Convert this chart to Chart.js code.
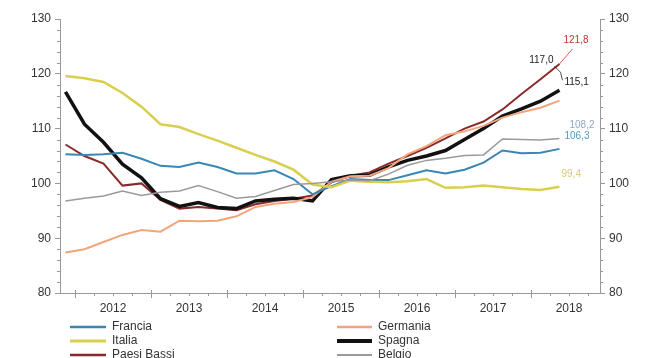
<!DOCTYPE html>
<html>
<head>
<meta charset="utf-8">
<script src="https://cdn.jsdelivr.net/npm/chart.js@4.4.0/dist/chart.umd.min.js"></script>
<style>
    html, body { margin: 0; padding: 0; background: #fff; }
    #wrap { width: 652px; height: 358px; position: relative; }
</style>
</head>
<body>
<div id="wrap"><canvas id="lineChart"></canvas></div>
<script>
// Quarterly house price indices (2015 = 100)
const quarters = [
    '2011Q4',
    '2012Q1', '2012Q2', '2012Q3', '2012Q4',
    '2013Q1', '2013Q2', '2013Q3', '2013Q4',
    '2014Q1', '2014Q2', '2014Q3', '2014Q4',
    '2015Q1', '2015Q2', '2015Q3', '2015Q4',
    '2016Q1', '2016Q2', '2016Q3', '2016Q4',
    '2017Q1', '2017Q2', '2017Q3', '2017Q4',
    '2018Q1', '2018Q2'
];

const francia     = [105.3, 105.2, 105.3, 105.6, 104.5, 103.2, 103.0, 103.8, 103.0, 101.8, 101.8, 102.4, 100.8, 98.0, 99.5, 100.8, 100.6, 100.6, 101.5, 102.4, 101.8, 102.5, 103.8, 106.0, 105.5, 105.6, 106.3];
const germania    = [87.4, 88.0, 89.3, 90.6, 91.5, 91.2, 93.2, 93.1, 93.2, 94.0, 95.7, 96.3, 96.6, 97.5, 100.3, 101.3, 101.4, 102.8, 105.3, 106.8, 108.8, 109.5, 110.5, 112.0, 113.0, 113.8, 115.1];
const italia      = [119.6, 119.2, 118.5, 116.5, 114.0, 110.8, 110.3, 109.0, 107.8, 106.5, 105.2, 104.0, 102.5, 99.8, 99.3, 100.5, 100.3, 100.2, 100.4, 100.8, 99.2, 99.3, 99.6, 99.3, 99.0, 98.8, 99.4];
const spagna      = [116.7, 110.8, 107.5, 103.5, 101.0, 97.2, 95.8, 96.5, 95.6, 95.4, 96.8, 97.1, 97.3, 96.8, 100.7, 101.4, 101.5, 103.0, 104.2, 105.0, 106.0, 108.0, 110.0, 112.3, 113.6, 115.0, 117.0];
const paesiBassi  = [107.1, 105.0, 103.6, 99.6, 100.0, 97.0, 95.4, 95.7, 95.4, 95.1, 96.2, 96.8, 97.2, 97.8, 100.2, 101.4, 102.0, 103.6, 105.0, 106.5, 108.2, 110.0, 111.3, 113.5, 116.3, 119.0, 121.8];
const belgio      = [96.8, 97.3, 97.7, 98.6, 97.8, 98.4, 98.6, 99.6, 98.5, 97.3, 97.6, 98.7, 99.8, 100.0, 100.3, 100.6, 100.5, 101.7, 103.3, 104.2, 104.6, 105.1, 105.2, 108.1, 108.0, 107.9, 108.2];

const seriesNames = ['Francia', 'Germania', 'Italia', 'Spagna', 'Paesi Bassi', 'Belgio'];
const endValueLabels = ['106,3', '115,1', '99,4', '117,0', '121,8', '108,2'];
const yearLabels = ['2012', '2013', '2014', '2015', '2016', '2017', '2018'];
const yTickValues = [80, 90, 100, 110, 120, 130];

// Quarter string -> decimal year at mid-quarter
function quarterToX(q) {
    const year = parseInt(q.slice(0, 4), 10);
    const n = parseInt(q.slice(-1), 10);
    return year + (n - 0.5) / 4;
}

function toPoints(values) {
    return values.map((v, i) => ({ x: quarterToX(quarters[i]), y: v }));
}

const seriesValues = [francia, germania, italia, spagna, paesiBassi, belgio];

const seriesStyle = [
    { color: '#3a86b4', width: 2 },    // Francia
    { color: '#f2a57c', width: 2 },    // Germania
    { color: '#d9cf4e', width: 2.5 },  // Italia
    { color: '#111111', width: 3.5 },  // Spagna
    { color: '#8a2b2b', width: 2 },    // Paesi Bassi
    { color: '#9a9a9a', width: 1.5 }   // Belgio
];

// End-of-series value tags: text colour, alignment and offset from last point
const endLabelStyle = [
    { color: '#4a9cc8', align: 'left', dx: 5, dy: -13 },
    { color: '#222222', align: 'left', dx: 5, dy: -18 },
    { color: '#d8cc74', align: 'left', dx: 2, dy: -12 },
    { color: '#222222', align: 'right', dx: -6, dy: -30, leader: [[-5, -24], [1, -18], [3, -10]] },
    { color: '#c0392b', align: 'left', dx: 4, dy: -24, leader: [[0, 0], [13, -15]] },
    { color: '#8fa8c0', align: 'left', dx: 10, dy: -13 }
];

// Draw order: lighter lines first, Spagna and Paesi Bassi on top
const drawOrder = [5, 2, 0, 1, 3, 4];

const datasets = drawOrder.map(i => ({
    label: seriesNames[i],
    data: toPoints(seriesValues[i]),
    borderColor: seriesStyle[i].color,
    borderWidth: seriesStyle[i].width,
    pointRadius: 0,
    tension: 0,
    fill: false,
    seriesIndex: i
}));

// Minor ticks on both value axes and quarter/year ticks on the time axis
const axisTicksPlugin = {
    id: 'axisTicks',
    afterDraw(chart) {
        const ctx = chart.ctx;
        const area = chart.chartArea;
        const xs = chart.scales.x;
        const ys = chart.scales.y;
        ctx.save();
        ctx.strokeStyle = '#999';
        ctx.lineWidth = 1;
        ctx.beginPath();
        for (let v = 80; v <= 130; v += 2) {
            if (v % 10 === 0) continue;
            const py = Math.round(ys.getPixelForValue(v)) + 0.5;
            ctx.moveTo(area.left - 3, py);
            ctx.lineTo(area.left, py);
            ctx.moveTo(area.right, py);
            ctx.lineTo(area.right + 3, py);
        }
        for (let t = 2011.75; t < xs.max; t += 0.25) {
            if (t < xs.min) continue;
            const px = Math.round(xs.getPixelForValue(t)) + 0.5;
            const major = Math.abs(t - Math.round(t)) < 0.01;
            ctx.moveTo(px, area.bottom - (major ? 3 : 0));
            ctx.lineTo(px, area.bottom + (major ? 5 : 3));
        }
        ctx.stroke();
        ctx.restore();
    }
};

// Value tags at the end of each series
const endLabelsPlugin = {
    id: 'endLabels',
    afterDatasetsDraw(chart) {
        const ctx = chart.ctx;
        ctx.save();
        ctx.font = '10px "Liberation Sans", Arial, sans-serif';
        ctx.textBaseline = 'middle';
        chart.data.datasets.forEach(ds => {
            const i = ds.seriesIndex;
            const st = endLabelStyle[i];
            const last = ds.data[ds.data.length - 1];
            const px = chart.scales.x.getPixelForValue(last.x);
            const py = chart.scales.y.getPixelForValue(last.y);
            if (st.leader) {
                ctx.strokeStyle = st.color;
                ctx.lineWidth = 0.8;
                ctx.beginPath();
                st.leader.forEach((p, k) => {
                    if (k === 0) ctx.moveTo(px + p[0], py + p[1]);
                    else ctx.lineTo(px + p[0], py + p[1]);
                });
                ctx.stroke();
            }
            ctx.fillStyle = st.color;
            ctx.textAlign = st.align;
            ctx.fillText(endValueLabels[i], px + st.dx, py + st.dy);
        });
        ctx.restore();
    }
};

// Two-column legend under the time axis
const legendPlugin = {
    id: 'twoColLegend',
    afterDraw(chart) {
        const ctx = chart.ctx;
        const cols = [{ x0: 70, x1: 106, tx: 112 }, { x0: 337, x1: 372, tx: 378 }];
        const rows = [327, 341, 355];
        ctx.save();
        ctx.font = '12px "Liberation Sans", Arial, sans-serif';
        ctx.textBaseline = 'middle';
        ctx.textAlign = 'left';
        seriesNames.forEach((name, i) => {
            const c = cols[i % 2];
            const y = rows[Math.floor(i / 2)];
            ctx.strokeStyle = seriesStyle[i].color;
            ctx.lineWidth = seriesStyle[i].width + 0.5;
            ctx.beginPath();
            ctx.moveTo(c.x0, y);
            ctx.lineTo(c.x1, y);
            ctx.stroke();
            ctx.fillStyle = '#333';
            ctx.fillText(name, c.tx, y);
        });
        ctx.restore();
    }
};

const ctx = document.getElementById('lineChart').getContext('2d');

const valueAxis = (position, width) => ({
    type: 'linear',
    position: position,
    min: 80,
    max: 130,
    afterBuildTicks: axis => { axis.ticks = yTickValues.map(v => ({ value: v })); },
    afterFit: axis => { axis.width = width; },
    grid: { drawOnChartArea: false, tickLength: 5, color: '#999' },
    border: { display: true, color: '#999' },
    ticks: {
        padding: 4,
        color: '#333',
        font: { size: 12, family: '"Liberation Sans", Arial, sans-serif' }
    }
});

const lineChart = new Chart(ctx, {
    type: 'line',
    data: { datasets: datasets },
    options: {
        responsive: true,
        maintainAspectRatio: false,
        animation: false,
        layout: { padding: { top: 19, bottom: 43, left: 0, right: 0 } },
        scales: {
            x: {
                type: 'linear',
                min: 2011.803,
                max: 2018.908,
                afterBuildTicks: axis => { axis.ticks = yearLabels.map(y => ({ value: parseInt(y, 10) + 0.5 })); },
                afterFit: axis => { axis.height = 22; },
                grid: { display: false, drawTicks: false },
                border: { display: true, color: '#999' },
                ticks: {
                    padding: 8,
                    color: '#333',
                    maxRotation: 0,
                    font: { size: 12, family: '"Liberation Sans", Arial, sans-serif' },
                    callback: v => String(Math.floor(v))
                }
            },
            y: valueAxis('left', 60),
            y2: valueAxis('right', 52)
        },
        plugins: {
            legend: { display: false },
            tooltip: { enabled: false }
        }
    },
    plugins: [axisTicksPlugin, endLabelsPlugin, legendPlugin]
});
</script>
</body>
</html>
